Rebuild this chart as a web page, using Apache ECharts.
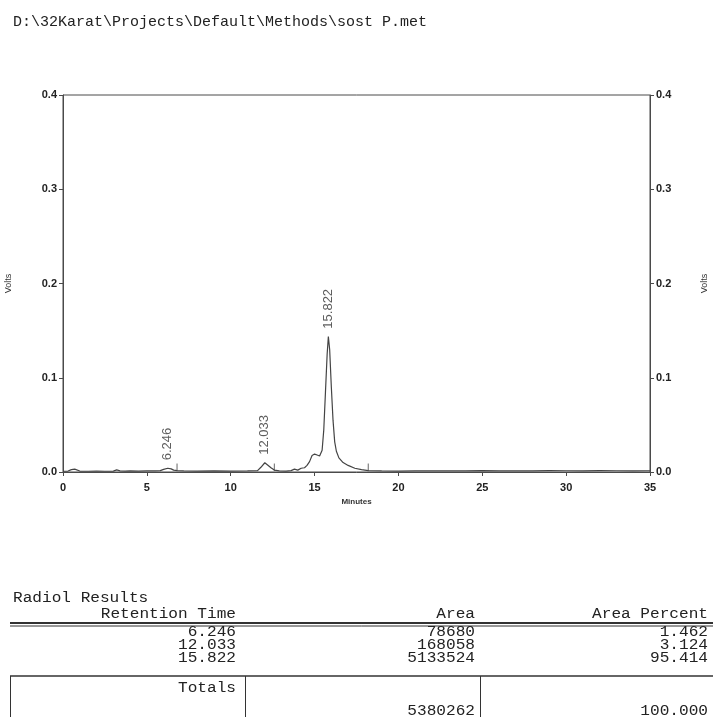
<!DOCTYPE html>
<html>
<head>
<meta charset="utf-8">
<script src="https://cdn.jsdelivr.net/npm/echarts@6/dist/echarts.min.js"></script>
<style>
  html, body { margin: 0; padding: 0; background: #fff; }
  #chart { width: 713px; height: 717px; }
</style>
</head>
<body>
<div id="chart"></div>
<script>
// Method file path printed above the run
const methodPath = 'D:\\32Karat\\Projects\\Default\\Methods\\sost P.met';

// Detector trace: [minutes, volts]
const traceTimes = [
  0.0, 0.3, 0.5, 0.6, 0.7, 0.8, 1.0, 1.5, 2.0, 2.5, 3.0, 3.2, 3.4, 3.7, 4.0, 4.5,
  5.0, 5.5, 5.8, 6.0, 6.246, 6.45, 6.6, 6.8, 7.2, 8.0, 9.0, 10.0, 11.0, 11.6, 11.8,
  12.033, 12.2, 12.4, 12.6, 12.9, 13.3, 13.6, 13.8, 14.0, 14.2, 14.4, 14.55, 14.7,
  14.85, 15.0, 15.15, 15.3, 15.45, 15.55, 15.65, 15.75, 15.822, 15.9, 16.0, 16.1,
  16.2, 16.3, 16.45, 16.7, 17.0, 17.4, 17.8, 18.2, 19.0, 20.0, 21.0, 22.0, 23.0,
  24.0, 25.0, 26.0, 27.0, 28.0, 29.0, 30.0, 31.0, 32.0, 33.0, 34.0, 35.0
];
const traceVolts = [
  0.0008, 0.0010, 0.0025, 0.0018, 0.0030, 0.0012, 0.0010, 0.0008, 0.0009, 0.0008, 0.0010, 0.0022, 0.0012, 0.0009, 0.0012, 0.0010,
  0.0011, 0.0012, 0.0015, 0.0028, 0.0040, 0.0033, 0.0020, 0.0015, 0.0012, 0.0010, 0.0011, 0.0010, 0.0012, 0.0015, 0.0050,
  0.0098, 0.0075, 0.0045, 0.0020, 0.0012, 0.0010, 0.0015, 0.0030, 0.0020, 0.0040, 0.0045, 0.0070, 0.0110,
  0.0175, 0.0190, 0.0180, 0.0170, 0.0230, 0.0450, 0.0850, 0.1250, 0.1436, 0.1300, 0.0900, 0.0550,
  0.0320, 0.0220, 0.0150, 0.0100, 0.0070, 0.0040, 0.0025, 0.0015, 0.0012, 0.0010, 0.0012, 0.0011, 0.0013,
  0.0012, 0.0014, 0.0012, 0.0013, 0.0012, 0.0014, 0.0013, 0.0012, 0.0014, 0.0013, 0.0012, 0.0013
];

// Integrated peaks
const peakTimes = [6.246, 12.033, 15.822];
const peakHeights = [0.0040, 0.0098, 0.1436];
const peakAreas = [78680, 168058, 5133524];
const peakPercents = [1.462, 3.124, 95.414];
const totalArea = 5380262;
const totalPercent = 100.000;

// Peak-end event marks on the baseline
const eventTimes = [6.8, 12.6, 18.2];
const eventLow = 0.001;
const eventHigh = 0.009;

// Axis ticks
const xTicks = [0, 5, 10, 15, 20, 25, 30, 35];
const yTicks = [0.0, 0.1, 0.2, 0.3, 0.4];

const traceData = traceTimes.map((t, i) => [t, traceVolts[i]]);
const peakData = peakTimes.map((t, i) => [t, peakHeights[i]]);
const eventData = [];
eventTimes.forEach(t => { eventData.push([t, eventLow], [t, eventHigh], [t, null]); });

const chart = echarts.init(document.getElementById('chart'), null, { renderer: 'canvas' });

const axisColor = '#4a4a4a';
const labelColor = '#222';
const sansFont = '"Liberation Sans", Arial, sans-serif';
const monoFont = '"Liberation Mono", "Courier New", monospace';

const yAxisCommon = {
  type: 'value',
  min: yTicks[0],
  max: yTicks[yTicks.length - 1],
  interval: 0.1,
  name: 'Volts',
  nameLocation: 'middle',
  nameRotate: 90,
  nameGap: 50,
  nameTextStyle: { fontFamily: sansFont, fontSize: 9, color: '#333' },
  axisLine: { show: true, lineStyle: { color: axisColor, width: 1 } },
  axisTick: { show: true, length: 4, lineStyle: { color: axisColor } },
  axisLabel: {
    fontFamily: sansFont, fontSize: 11, fontWeight: 'bold', color: labelColor, margin: 6,
    formatter: v => v.toFixed(1)
  },
  splitLine: { show: false }
};

// Results table drawn as text and rules below the plot
const colRT = 236, colArea = 475, colPct = 708;
const rowY = [632, 645, 658];
const tableFontSize = 14;
const tableStretch = 1.15;
const graphics = [];
function txt(x, y, s, align) {
  graphics.push({
    type: 'text', x: x, y: y, silent: true, scaleX: tableStretch,
    style: { text: s, fill: '#222', font: tableFontSize + 'px ' + monoFont, textAlign: align || 'right', textVerticalAlign: 'middle' }
  });
}
function rule(x1, y1, x2, y2, w) {
  graphics.push({
    type: 'line', silent: true,
    shape: { x1: x1, y1: y1, x2: x2, y2: y2 },
    style: { stroke: '#333', lineWidth: w || 1 }
  });
}
graphics.push({
  type: 'text', x: 13, y: 22, silent: true,
  style: { text: methodPath, fill: '#222', font: '15px ' + monoFont, textAlign: 'left', textVerticalAlign: 'middle' }
});
txt(13, 598, 'Radiol Results', 'left');
txt(colRT, 614, 'Retention Time');
txt(colArea, 614, 'Area');
txt(colPct, 614, 'Area Percent');
rule(10, 623, 713, 623, 2);
rule(10, 626, 713, 626, 1);
peakTimes.forEach((t, i) => {
  txt(colRT, rowY[i], t.toFixed(3));
  txt(colArea, rowY[i], String(peakAreas[i]));
  txt(colPct, rowY[i], peakPercents[i].toFixed(3));
});
rule(10, 676, 713, 676, 1.5);
rule(10.5, 676, 10.5, 717, 1);
rule(245.5, 676, 245.5, 717, 1);
rule(480.5, 676, 480.5, 717, 1);
txt(colRT, 688, 'Totals');
txt(colArea, 711, String(totalArea));
txt(colPct, 711, totalPercent.toFixed(3));

chart.setOption({
  backgroundColor: '#fff',
  animation: false,
  grid: {
    left: 63, right: 63, top: 95, bottom: 245,
    outerBoundsMode: 'none',
    containLabel: false,
    show: true, borderColor: axisColor, borderWidth: 1, backgroundColor: 'transparent'
  },
  xAxis: {
    type: 'value',
    min: xTicks[0],
    max: xTicks[xTicks.length - 1],
    interval: 5,
    name: 'Minutes',
    nameLocation: 'middle',
    nameGap: 26,
    nameTextStyle: { fontFamily: sansFont, fontSize: 8, fontWeight: 'bold', color: '#333' },
    axisLine: { show: true, onZero: false, lineStyle: { color: axisColor, width: 1 } },
    axisTick: { show: true, length: 4, lineStyle: { color: axisColor } },
    axisLabel: { fontFamily: sansFont, fontSize: 11, fontWeight: 'bold', color: labelColor, margin: 10 },
    splitLine: { show: false }
  },
  yAxis: [
    Object.assign({}, yAxisCommon, { position: 'left' }),
    Object.assign({}, yAxisCommon, { position: 'right' })
  ],
  series: [
    {
      type: 'line',
      data: traceData,
      showSymbol: false,
      symbol: 'none',
      lineStyle: { color: '#444', width: 1.2 },
      z: 3
    },
    {
      type: 'line',
      data: eventData,
      showSymbol: false,
      symbol: 'none',
      connectNulls: false,
      lineStyle: { color: '#666', width: 1 },
      z: 2
    },
    {
      type: 'scatter',
      data: peakData,
      symbolSize: 0,
      label: {
        show: true,
        position: 'top',
        distance: 8,
        rotate: 90,
        align: 'left',
        verticalAlign: 'middle',
        fontFamily: sansFont,
        fontSize: 13,
        color: '#333',
        formatter: p => p.value[0].toFixed(3)
      },
      z: 4
    }
  ],
  graphic: graphics
});
</script>
</body>
</html>
